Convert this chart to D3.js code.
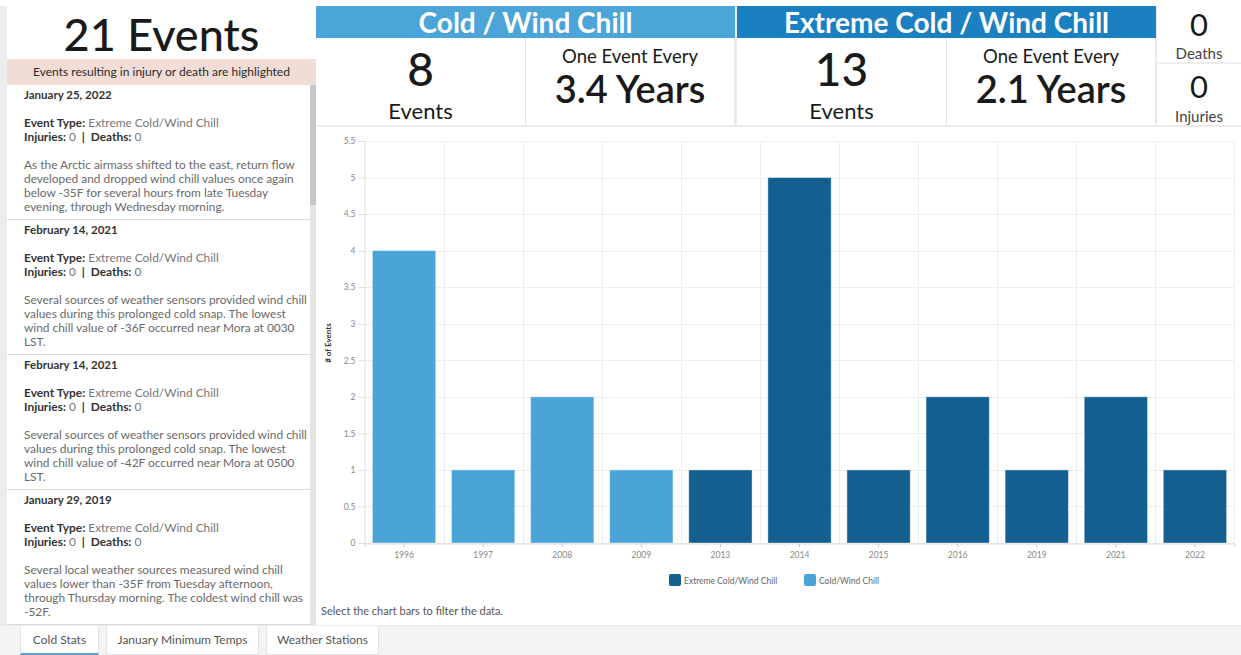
<!DOCTYPE html>
<html lang="en">
<head>
<meta charset="UTF-8">
<title>Cold Stats</title>
<script src="https://d3js.org/d3.v7.min.js"></script>
<style>
    body {
        margin: 0;
        width: 1241px;
        height: 655px;
        overflow: hidden;
        background: #ececec;
        font-family: Lato, "Noto Sans", Arial, sans-serif;
        color: #1a1a1a;
        position: relative;
    }
    .topstrip { position: absolute; left: 0; top: 0; width: 1241px; height: 6px; background: #fff; }
    .box { position: absolute; background: #fff; box-sizing: border-box; }
    .center { text-align: center; }
    #total { left: 7px; top: 6px; width: 309px; height: 53px; font-size: 45px; line-height: 56px; font-weight: 500; }
    #note { left: 7px; top: 59px; width: 309px; height: 26px; background: #f1dcd6; font-size: 12px; line-height: 26px; color: #2a2a2a; }
    #list { left: 7px; top: 85px; width: 303px; height: 540px; overflow: hidden; }
    #scroll { left: 310px; top: 85px; width: 6px; height: 540px; background: #e4e4e4; }
    #thumb { position: absolute; left: 0; top: 0; width: 6px; height: 120px; background: #c6c6c6; }
    .entry { height: 134px; border-bottom: 1px solid #d9d9d9; box-sizing: content-box; padding-left: 17px; font-size: 11.9px; }
    .entry .date { font-weight: 700; font-size: 11.5px; line-height: 16px; padding-top: 2px; color: #333; }
    .entry .type { margin-top: 13px; line-height: 14px; color: #333; }
    .entry .desc { margin-top: 14px; line-height: 14px; color: #6a6a6a; }
    .entry b { color: #333; }
    .entry .val { color: #777; }
    .hdr { color: #fff; font-weight: 700; font-size: 28px; line-height: 32px; text-align: center; }
    .cell { text-align: center; border-right: 1px solid #e6e6e6; }
    .big { font-size: 46px; line-height: 50px; padding-top: 6px; font-weight: 500; }
    .sub { font-size: 22px; line-height: 24px; margin-top: 5px; }
    .every { font-size: 18.5px; line-height: 22px; }
    .years { font-size: 38px; line-height: 42px; font-weight: 600; }
    .side { text-align: center; }
    .side .n { font-size: 31px; line-height: 32px; }
    .side .l { font-size: 15px; line-height: 18px; color: #444; }
    #chart { left: 316px; top: 127px; width: 925px; height: 498px; }
    #hint { position: absolute; left: 5px; top: 477px; font-size: 11px; color: #555; }
    #tabs { position: absolute; left: 0; top: 626px; width: 1241px; height: 29px; background: #f4f4f4; }
    .tab { position: absolute; top: 0; height: 29px; background: #fff; border: 1px solid #e2e2e2; border-top: none; box-sizing: border-box; font-size: 12px; line-height: 28px; text-align: center; color: #555; }
</style>
</head>
<body>
<script>
// chart data
const years = ["1996", "1997", "2008", "2009", "2013", "2014", "2015", "2016", "2019", "2021", "2022"];
const coldValues = [4, 1, 2, 1, 0, 0, 0, 0, 0, 0, 0];
const extremeValues = [0, 0, 0, 0, 1, 5, 1, 2, 1, 2, 1];
const yTicks = [0, 0.5, 1, 1.5, 2, 2.5, 3, 3.5, 4, 4.5, 5, 5.5];
const seriesNames = ["Extreme Cold/Wind Chill", "Cold/Wind Chill"];
const seriesColors = ["#135f8f", "#4aa4d8"];

// event list
const eventDates = ["January 25, 2022", "February 14, 2021", "February 14, 2021", "January 29, 2019"];
const eventTypes = ["Extreme Cold/Wind Chill", "Extreme Cold/Wind Chill", "Extreme Cold/Wind Chill", "Extreme Cold/Wind Chill"];
const eventDescs = [
    ["As the Arctic airmass shifted to the east, return flow", "developed and dropped wind chill values once again", "below -35F for several hours from late Tuesday", "evening, through Wednesday morning."],
    ["Several sources of weather sensors provided wind chill", "values during this prolonged cold snap. The lowest", "wind chill value of -36F occurred near Mora at 0030", "LST."],
    ["Several sources of weather sensors provided wind chill", "values during this prolonged cold snap. The lowest", "wind chill value of -42F occurred near Mora at 0500", "LST."],
    ["Several local weather sources measured wind chill", "values lower than -35F from Tuesday afternoon,", "through Thursday morning. The coldest wind chill was", "-52F."]
];

// summary numbers
const coldTotal = d3.sum(coldValues);
const extremeTotal = d3.sum(extremeValues);
const coldEvery = "3.4";
const extremeEvery = "2.1";
const deaths = 0;
const injuries = 0;
const tabNames = ["Cold Stats", "January Minimum Temps", "Weather Stations"];

const body = d3.select("body");
body.append("div").attr("class", "topstrip");

// left panel
body.append("div").attr("class", "box center").attr("id", "total")
    .text(`${coldTotal + extremeTotal} Events`);
body.append("div").attr("class", "box center").attr("id", "note")
    .text("Events resulting in injury or death are highlighted");

const list = body.append("div").attr("class", "box").attr("id", "list");
eventDates.forEach((d, i) => {
    const e = list.append("div").attr("class", "entry");
    e.append("div").attr("class", "date").text(d);
    e.append("div").attr("class", "type")
        .html(`<b>Event Type:</b> <span class="val">${eventTypes[i]}</span><br><b>Injuries:</b> <span class="val">0</span> <b>&nbsp;|&nbsp; Deaths:</b> <span class="val">0</span>`);
    e.append("div").attr("class", "desc").html(eventDescs[i].join("<br>"));
});
body.append("div").attr("class", "box").attr("id", "scroll")
    .append("div").attr("id", "thumb");

// stat blocks
function statBlock(x, title, color, total, every) {
    body.append("div").attr("class", "box hdr")
        .style("left", x + "px").style("top", "6px")
        .style("width", "419px").style("height", "32px")
        .style("background", color)
        .text(title);
    const c1 = body.append("div").attr("class", "box cell")
        .style("left", x + "px").style("top", "38px")
        .style("width", "210px").style("height", "87px");
    c1.append("div").attr("class", "big").text(total);
    c1.append("div").attr("class", "sub").text("Events");
    const c2 = body.append("div").attr("class", "box cell")
        .style("left", (x + 210) + "px").style("top", "38px")
        .style("width", "209px").style("height", "87px");
    c2.append("div").attr("class", "every").style("padding-top", "7px").text("One Event Every");
    c2.append("div").attr("class", "years").text(`${every} Years`);
}
statBlock(316, "Cold / Wind Chill", "#4ba5d9", coldTotal, coldEvery);
statBlock(737, "Extreme Cold / Wind Chill", "#1a80c1", extremeTotal, extremeEvery);

const s1 = body.append("div").attr("class", "box side")
    .style("left", "1157px").style("top", "6px").style("width", "84px").style("height", "56px");
s1.append("div").attr("class", "n").style("padding-top", "2px").text(deaths);
s1.append("div").attr("class", "l").style("margin-top", "4px").text("Deaths");
const s2 = body.append("div").attr("class", "box side")
    .style("left", "1157px").style("top", "64px").style("width", "84px").style("height", "61px");
s2.append("div").attr("class", "n").style("padding-top", "6px").text(injuries);
s2.append("div").attr("class", "l").style("margin-top", "5px").text("Injuries");

// chart
const chartBox = body.append("div").attr("class", "box").attr("id", "chart");
chartBox.append("div").attr("id", "hint").text("Select the chart bars to filter the data.");

const W = 925, H = 498;
const svg = chartBox.append("svg").attr("width", W).attr("height", H)
    .style("position", "absolute").style("left", 0).style("top", 0);

const x = d3.scaleBand().domain(years).range([48.5, 918.5]).paddingInner(0.2).paddingOuter(0.1);
const xGrid = d3.scaleBand().domain(years).range([48.5, 918.5]);
const y = d3.scaleLinear().domain([0, 5.5]).range([416, 14]);

// horizontal grid
svg.append("g").selectAll("line").data(yTicks).join("line")
    .attr("x1", 48.5).attr("x2", 918.5)
    .attr("y1", d => Math.round(y(d)) + 0.5).attr("y2", d => Math.round(y(d)) + 0.5)
    .attr("stroke", "#eeeeee");
// vertical grid at band edges
svg.append("g").selectAll("line").data(years.slice(1).concat(["end"])).join("line")
    .attr("x1", d => d === "end" ? 918.5 : Math.round(xGrid(d)) + 0.5)
    .attr("x2", d => d === "end" ? 918.5 : Math.round(xGrid(d)) + 0.5)
    .attr("y1", 14).attr("y2", 416)
    .attr("stroke", "#eeeeee");

// bars
const rows = years.map((yr, i) => ({ year: yr, cold: coldValues[i], extreme: extremeValues[i] }));
const stack = d3.stack().keys(["cold", "extreme"])(rows);
const colorOf = { cold: seriesColors[1], extreme: seriesColors[0] };
stack.forEach(layer => {
    svg.append("g").selectAll("rect").data(layer.filter(d => d[1] > d[0])).join("rect")
        .attr("x", d => x(d.data.year))
        .attr("width", x.bandwidth())
        .attr("y", d => y(d[1]))
        .attr("height", d => y(d[0]) - y(d[1]))
        .attr("fill", colorOf[layer.key])
        .attr("stroke", "#ffffff").attr("stroke-opacity", 0.4).attr("stroke-width", 1);
});

// y axis
const yAxis = svg.append("g").attr("transform", "translate(48.5,0)")
    .call(d3.axisLeft(y).tickValues(yTicks).tickSize(6).tickPadding(3).tickFormat(d3.format("")));
yAxis.select(".domain").attr("stroke", "#dddddd");
yAxis.selectAll(".tick line").attr("stroke", "#dddddd");
yAxis.selectAll("text").attr("fill", "#888").style("font-size", "8.5px").style("font-family", "Lato, sans-serif");

// x axis
const xAxis = svg.append("g").attr("transform", "translate(0,416.5)")
    .call(d3.axisBottom(x).tickSize(4).tickPadding(4));
xAxis.select(".domain").attr("stroke", "#dddddd");
xAxis.selectAll(".tick line").attr("stroke", "#cccccc");
xAxis.selectAll("text").attr("fill", "#888").style("font-size", "8.5px").style("font-family", "Lato, sans-serif");

svg.append("text")
    .attr("transform", "translate(15,216) rotate(-90)")
    .attr("text-anchor", "middle")
    .style("font-size", "8px").style("font-weight", 700).attr("fill", "#333")
    .text("# of Events");

// legend
const legend = svg.append("g").attr("transform", "translate(353,447)");
const legendX = [0, 135];
seriesNames.forEach((name, i) => {
    const g = legend.append("g").attr("transform", `translate(${legendX[i]},0)`);
    g.append("rect").attr("width", 12).attr("height", 12).attr("rx", 2)
        .attr("fill", seriesColors[i]);
    g.append("text").attr("x", 15).attr("y", 9.5)
        .style("font-size", "8.5px").attr("fill", "#666")
        .text(name);
});

// tabs
const tabs = body.append("div").attr("id", "tabs");
const tabLeft = [20, 106, 266];
const tabWidth = [79, 153, 113];
tabNames.forEach((t, i) => {
    tabs.append("div").attr("class", "tab")
        .style("left", tabLeft[i] + "px").style("width", tabWidth[i] + "px")
        .style("border-bottom", i === 0 ? "2px solid #5aa0d0" : "1px solid #e2e2e2")
        .text(t);
});
</script>
</body>
</html>
